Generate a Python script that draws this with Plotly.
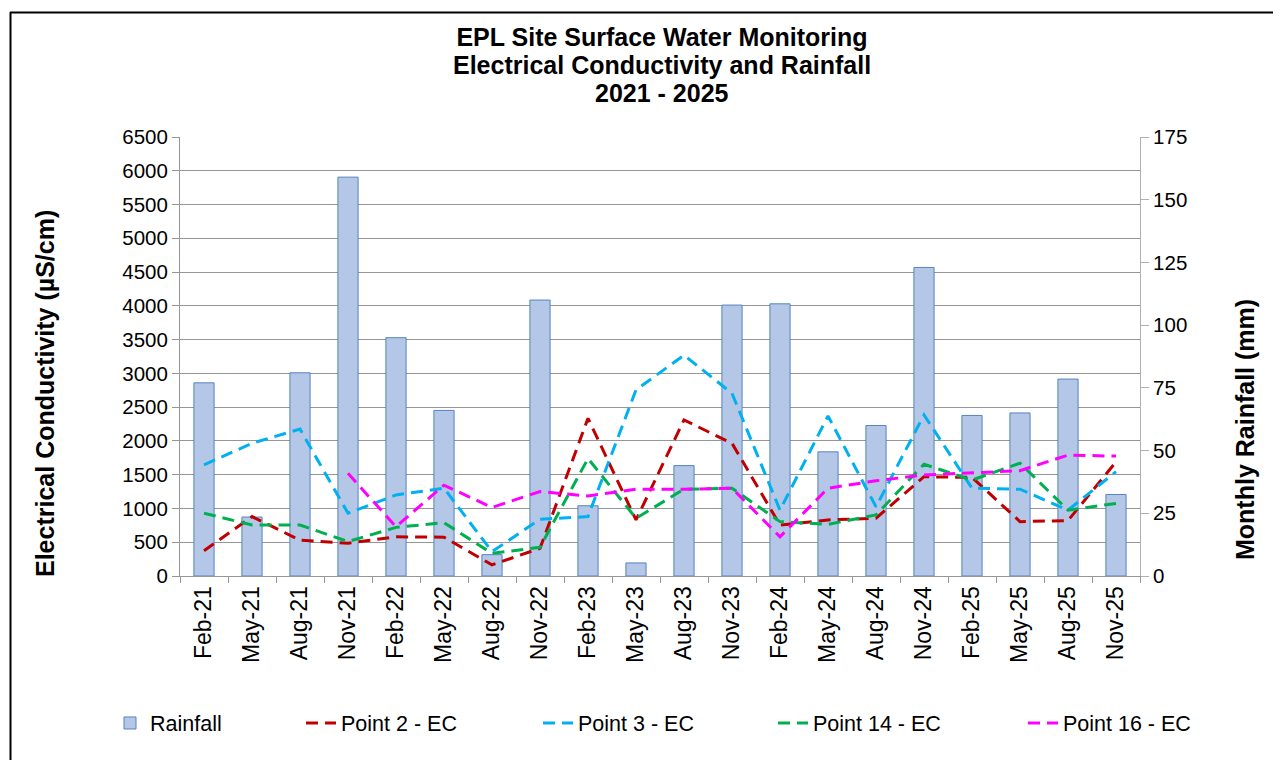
import plotly.graph_objects as go

categories = ["Feb-21", "May-21", "Aug-21", "Nov-21", "Feb-22", "May-22", "Aug-22", "Nov-22",
              "Feb-23", "May-23", "Aug-23", "Nov-23", "Feb-24", "May-24", "Aug-24", "Nov-24",
              "Feb-25", "May-25", "Aug-25", "Nov-25"]
rainfall = [77, 23.5, 81, 159, 95, 66, 8.5, 110, 28, 5.2, 44, 108, 108.5, 49.5, 60, 123, 64, 65, 78.5, 32.5]
point2 = [375, 880, 530, 485, 580, 575, 165, 410, 2335, 830, 2310, 1965, 755, 830, 855, 1470, 1460, 805, 820, 1690]
point3 = [1645, 1965, 2175, 930, 1200, 1300, 360, 840, 880, 2755, 3270, 2705, 975, 2370, 1025, 2385, 1300, 1285, 975, 1545]
point14 = [930, 755, 755, 510, 720, 790, 335, 425, 1740, 855, 1285, 1300, 805, 765, 905, 1655, 1420, 1670, 975, 1075]
point16 = [None, None, None, 1520, 730, 1345, 1015, 1250, 1185, 1285, 1285, 1300, 580, 1300, 1410, 1495, 1530, 1560, 1790, 1775]

title_lines = ["EPL Site Surface Water Monitoring", "Electrical Conductivity and Rainfall", "2021 - 2025"]
ec_ticks = list(range(0, 6501, 500))
rain_ticks = list(range(0, 176, 25))

FONT = "Liberation Sans, Arial, sans-serif"
GRID = "#969696"
OFF = 8  # page body margin
W, H = 1281 - OFF, 769 - 2 * OFF
PL, PR, PT, PB = 180, 1140, 137, 576  # plot area in screen pixels


def px_x(p):  # screen x -> paper x
    return (p - PL) / (PR - PL)


def px_y(p):  # screen y -> paper y
    return (PB - p) / (PB - PT)


fig = go.Figure()

fig.add_trace(go.Bar(
    x=categories, y=rainfall, name="Rainfall", width=0.42,
    marker=dict(color="#b4c7e7", line=dict(color="#5583c2", width=1)),
    yaxis="y", legend="legend",
))

series = [
    ("Point 2 - EC", point2, "#c00000", "legend2"),
    ("Point 3 - EC", point3, "#00b0f0", "legend3"),
    ("Point 14 - EC", point14, "#00b050", "legend4"),
    ("Point 16 - EC", point16, "#ff00ff", "legend5"),
]
for name, vals, col, lg in series:
    fig.add_trace(go.Scatter(
        x=categories, y=vals, name=name, mode="lines", yaxis="y2", legend=lg,
        line=dict(color=col, width=3, dash="12px,7px"), connectgaps=False,
    ))

legend_text_x = [152, 343, 580, 815, 1065]
legend_y = 723
legend_common = dict(xref="container", yref="container", xanchor="left", yanchor="middle",
                     bgcolor="rgba(0,0,0,0)", font=dict(family=FONT, size=21.5, color="#000"),
                     orientation="h")
legends = {}
for i, tx in enumerate(legend_text_x):
    key = "legend" if i == 0 else f"legend{i+1}"
    legends[key] = dict(x=(tx - 42 - OFF) / W, y=1 - (legend_y - OFF) / H, **legend_common)

title_y = [37, 65, 93]
title_x = 662

# top border drawn as short segments
seg_edges = [10, 200, 400, 600, 800, 1000, 1200, 1280]
top_segments = [dict(type="line", xref="paper", yref="paper",
                     x0=px_x(a), x1=px_x(b), y0=px_y(12.5), y1=px_y(12.5),
                     line=dict(color="#000", width=2))
                for a, b in zip(seg_edges[:-1], seg_edges[1:])]

fig.update_layout(
    width=W, height=H,
    margin=dict(l=PL - OFF, r=W - (PR - OFF), t=PT - OFF, b=H - (PB - OFF), autoexpand=False),
    paper_bgcolor="white", plot_bgcolor="white",
    font=dict(family=FONT, size=20, color="#000"),
    showlegend=True,
    title=dict(
        text="<b>" + title_lines[0] + "</b>",
        x=(title_x - OFF) / W, xanchor="center", xref="container",
        y=1 - (title_y[0] - OFF) / H, yanchor="middle", yref="container",
        font=dict(family=FONT, size=25, color="#000"),
    ),
    xaxis=dict(
        type="category", range=[-0.5, len(categories) - 0.5],
        tickson="boundaries", ticks="outside", ticklen=6, tickcolor=GRID, tickwidth=1,
        showline=True, linecolor=GRID, linewidth=1, showgrid=False,
        tickangle=-90, tickfont=dict(size=23),
    ),
    yaxis=dict(
        side="right", range=[0, 175], tickvals=rain_ticks, ticks="outside", ticklen=8,
        tickcolor="#b0b0b0", showline=True, linecolor="#b0b0b0", linewidth=1,
        showgrid=False, zeroline=False, tickfont=dict(size=20.5),
    ),
    yaxis2=dict(
        side="left", overlaying="y", range=[0, 6500], tickvals=ec_ticks, ticks="outside",
        ticklen=7, tickcolor=GRID, showline=True, linecolor=GRID, linewidth=1,
        showgrid=True, gridcolor=GRID, gridwidth=1, zeroline=False, tickfont=dict(size=20.5),
    ),
    annotations=[
        *[dict(text="<b>" + t + "</b>", xref="paper", yref="paper",
               x=px_x(title_x), y=px_y(ty), showarrow=False,
               font=dict(family=FONT, size=25, color="#000"),
               xanchor="center", yanchor="middle")
          for t, ty in zip(title_lines[1:], title_y[1:])],
        dict(text="<b>Electrical Conductivity (µS/cm)</b>", xref="paper", yref="paper",
             x=px_x(45), y=px_y(394), textangle=-90,
             showarrow=False, font=dict(family=FONT, size=25, color="#000"),
             xanchor="center", yanchor="middle"),
        dict(text="<b>Monthly Rainfall (mm)</b>", xref="paper", yref="paper",
             x=px_x(1245), y=px_y(430), textangle=-90,
             showarrow=False, font=dict(family=FONT, size=25, color="#000"),
             xanchor="center", yanchor="middle"),
    ],
    shapes=[
        *top_segments,
        dict(type="line", xref="paper", yref="paper",
             x0=px_x(10.5), x1=px_x(10.5), y0=px_y(12), y1=px_y(760),
             line=dict(color="#000", width=2)),
    ],
    **legends,
)

fig.write_html("out.html", config={"displayModeBar": False})
